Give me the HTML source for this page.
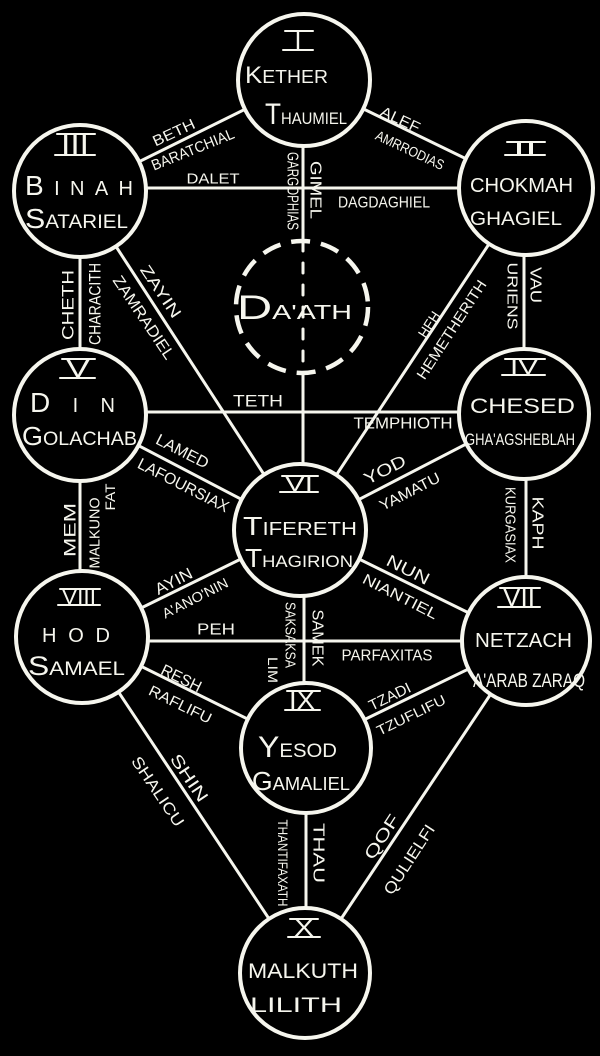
<!DOCTYPE html>
<html>
<head>
<meta charset="utf-8">
<style>
html,body{margin:0;padding:0;background:#000;}
body{width:600px;height:1056px;overflow:hidden;}
svg{display:block;}
text{fill:#f6f6ee;font-family:"Liberation Sans",sans-serif;}
</style>
</head>
<body>
<svg width="600" height="1056" viewBox="0 0 600 1056" xmlns="http://www.w3.org/2000/svg">
<rect width="600" height="1056" fill="#000"/>

<!-- connecting paths -->
<g stroke="#f6f6ee" stroke-width="3" fill="none" stroke-linecap="round">
  <line x1="80" y1="191" x2="304" y2="80"/>
  <line x1="304" y1="80" x2="526" y2="188"/>
  <line x1="80" y1="188" x2="526" y2="188"/>
  <line x1="303" y1="140" x2="303" y2="241"/>
  <line x1="303" y1="241" x2="303" y2="373" stroke-dasharray="10 12"/>
  <line x1="303" y1="373" x2="303" y2="470"/>
  <line x1="80" y1="191" x2="80" y2="415"/>
  <line x1="80" y1="191" x2="300" y2="530"/>
  <line x1="526" y1="188" x2="300" y2="530"/>
  <line x1="524" y1="188" x2="524" y2="414"/>
  <line x1="80" y1="412" x2="524" y2="412"/>
  <line x1="80" y1="415" x2="300" y2="530"/>
  <line x1="524" y1="414" x2="300" y2="530"/>
  <line x1="80" y1="415" x2="80" y2="637"/>
  <line x1="526" y1="414" x2="526" y2="641"/>
  <line x1="82" y1="637" x2="300" y2="530"/>
  <line x1="300" y1="530" x2="526" y2="641"/>
  <line x1="304" y1="530" x2="304" y2="748"/>
  <line x1="82" y1="641" x2="526" y2="641"/>
  <line x1="82" y1="637" x2="306" y2="748"/>
  <line x1="526" y1="641" x2="306" y2="748"/>
  <line x1="82" y1="637" x2="305" y2="973"/>
  <line x1="526" y1="641" x2="305" y2="973"/>
  <line x1="306" y1="748" x2="306" y2="973"/>
</g>

<!-- sephiroth circles -->
<g stroke="#f6f6ee" stroke-width="4" fill="#000">
  <circle cx="304" cy="80" r="66"/>
  <circle cx="80" cy="191" r="66"/>
  <circle cx="526" cy="188" r="67"/>
  <circle cx="80" cy="415" r="66"/>
  <circle cx="524" cy="414" r="65"/>
  <circle cx="300" cy="530" r="66"/>
  <circle cx="82" cy="637" r="66"/>
  <circle cx="526" cy="641" r="64"/>
  <circle cx="306" cy="748" r="65"/>
  <circle cx="305" cy="973" r="65"/>
</g>
<circle cx="302" cy="307" r="66" stroke="#f6f6ee" stroke-width="4.5" fill="none" stroke-dasharray="19 11"/>

<!-- roman numeral bars -->
<g stroke="#f6f6ee" stroke-width="2" stroke-linecap="round">
  <line x1="285" y1="31" x2="313" y2="31"/><line x1="283" y1="50" x2="313" y2="50"/>
  <line x1="57" y1="134" x2="95" y2="134"/><line x1="55" y1="155" x2="95" y2="155"/>
  <line x1="507" y1="142" x2="545" y2="142"/><line x1="505" y1="155" x2="545" y2="155"/>
  <line x1="62" y1="359" x2="95" y2="359"/><line x1="60" y1="378" x2="95" y2="378"/>
  <line x1="505" y1="359" x2="545" y2="359"/><line x1="502" y1="375" x2="545" y2="375"/>
  <line x1="282" y1="476" x2="318" y2="476"/><line x1="280" y1="492" x2="318" y2="492"/>
  <line x1="60" y1="589" x2="100" y2="589"/><line x1="58" y1="605" x2="100" y2="605"/>
  <line x1="500" y1="588" x2="540" y2="588"/><line x1="498" y1="607" x2="540" y2="607"/>
  <line x1="287" y1="691" x2="320" y2="691"/><line x1="285" y1="710" x2="320" y2="710"/>
  <line x1="290" y1="919" x2="318" y2="919"/><line x1="288" y1="937" x2="320" y2="937"/>
</g>

<!-- roman numerals -->
<g text-anchor="middle">
  <text x="298" y="49" font-size="25">I</text>
  <text x="75" y="154" font-size="28" textLength="28" lengthAdjust="spacingAndGlyphs">III</text>
  <text x="525" y="154" font-size="16" textLength="24" lengthAdjust="spacingAndGlyphs">II</text>
  <text x="78" y="377" font-size="25" textLength="24" lengthAdjust="spacingAndGlyphs">V</text>
  <text x="524" y="374" font-size="21" textLength="28" lengthAdjust="spacingAndGlyphs">IV</text>
  <text x="299" y="491" font-size="21" textLength="28" lengthAdjust="spacingAndGlyphs">VI</text>
  <text x="79" y="604" font-size="21" textLength="34" lengthAdjust="spacingAndGlyphs">VIII</text>
  <text x="519" y="606" font-size="25" textLength="32" lengthAdjust="spacingAndGlyphs">VII</text>
  <text x="302" y="709" font-size="25" textLength="26" lengthAdjust="spacingAndGlyphs">IX</text>
  <text x="304" y="936" font-size="24" textLength="20" lengthAdjust="spacingAndGlyphs">X</text>
</g>

<!-- sephira names -->
<g>
  <text x="245" y="83" font-size="18" textLength="83" lengthAdjust="spacingAndGlyphs"><tspan font-size="24">K</tspan>ETHER</text>
  <text x="265" y="124" font-size="17" textLength="82" lengthAdjust="spacingAndGlyphs"><tspan font-size="30">T</tspan>HAUMIEL</text>
  <text x="25" y="195" font-size="20" textLength="108" lengthAdjust="spacing"><tspan font-size="28">B</tspan>INAH</text>
  <text x="25" y="228" font-size="19" textLength="103" lengthAdjust="spacingAndGlyphs"><tspan font-size="28">S</tspan>ATARIEL</text>
  <text x="470" y="192" font-size="20" textLength="103" lengthAdjust="spacingAndGlyphs">CHOKMAH</text>
  <text x="470" y="225" font-size="19" textLength="92" lengthAdjust="spacingAndGlyphs">GHAGIEL</text>
  <text x="237" y="319" font-size="20" textLength="115" lengthAdjust="spacingAndGlyphs"><tspan font-size="34">D</tspan>A'ATH</text>
  <text x="30" y="412" font-size="20" textLength="85" lengthAdjust="spacing"><tspan font-size="28">D</tspan>IN</text>
  <text x="22" y="445" font-size="19" textLength="115" lengthAdjust="spacingAndGlyphs"><tspan font-size="26">G</tspan>OLACHAB</text>
  <text x="470" y="413" font-size="21" textLength="105" lengthAdjust="spacingAndGlyphs">CHESED</text>
  <text x="465" y="445" font-size="17" textLength="110" lengthAdjust="spacingAndGlyphs">GHA'AGSHEBLAH</text>
  <text x="243" y="535" font-size="18" textLength="114" lengthAdjust="spacingAndGlyphs"><tspan font-size="26">T</tspan>IFERETH</text>
  <text x="245" y="567" font-size="17" textLength="108" lengthAdjust="spacingAndGlyphs"><tspan font-size="26">T</tspan>HAGIRION</text>
  <text x="42" y="642" font-size="20" textLength="68" lengthAdjust="spacing">HOD</text>
  <text x="28" y="675" font-size="19" textLength="97" lengthAdjust="spacingAndGlyphs"><tspan font-size="27">S</tspan>AMAEL</text>
  <text x="475" y="647" font-size="20" textLength="97" lengthAdjust="spacingAndGlyphs">NETZACH</text>
  <text x="473" y="687" font-size="19" textLength="112" lengthAdjust="spacingAndGlyphs">A'ARAB ZARAQ</text>
  <text x="258" y="757" font-size="19" textLength="79" lengthAdjust="spacingAndGlyphs"><tspan font-size="30">Y</tspan>ESOD</text>
  <text x="252" y="790" font-size="18" textLength="98" lengthAdjust="spacingAndGlyphs"><tspan font-size="26">G</tspan>AMALIEL</text>
  <text x="248" y="978" font-size="21" textLength="110" lengthAdjust="spacingAndGlyphs">MALKUTH</text>
  <text x="250" y="1012" font-size="21" textLength="92" lengthAdjust="spacingAndGlyphs">LILITH</text>
</g>

<!-- path labels -->
<g text-anchor="middle" dominant-baseline="central">
  <text transform="translate(174,133) rotate(-25)" font-size="15" textLength="45" lengthAdjust="spacingAndGlyphs">BETH</text>
  <text transform="translate(193,150) rotate(-22)" font-size="15" textLength="88" lengthAdjust="spacingAndGlyphs">BARATCHIAL</text>
  <text transform="translate(400,120) rotate(25)" font-size="15" textLength="42" lengthAdjust="spacingAndGlyphs">ALEF</text>
  <text transform="translate(410,150) rotate(25)" font-size="14" textLength="74" lengthAdjust="spacingAndGlyphs">AMRRODIAS</text>
  <text transform="translate(213,179)" font-size="15" textLength="53" lengthAdjust="spacingAndGlyphs">DALET</text>
  <text transform="translate(384,203)" font-size="16" textLength="92" lengthAdjust="spacingAndGlyphs">DAGDAGHIEL</text>
  <text transform="translate(292,191) rotate(90)" font-size="16" textLength="78" lengthAdjust="spacingAndGlyphs">GARGOPHIAS</text>
  <text transform="translate(315,190) rotate(90)" font-size="16" textLength="58" lengthAdjust="spacingAndGlyphs">GIMEL</text>
  <text transform="translate(68,305) rotate(-90)" font-size="17" textLength="70" lengthAdjust="spacingAndGlyphs">CHETH</text>
  <text transform="translate(95,304) rotate(-90)" font-size="17" textLength="82" lengthAdjust="spacingAndGlyphs">CHARACITH</text>
  <text transform="translate(160,292) rotate(56)" font-size="16" textLength="60" lengthAdjust="spacingAndGlyphs">ZAYIN</text>
  <text transform="translate(143,318) rotate(56)" font-size="16" textLength="97" lengthAdjust="spacingAndGlyphs">ZAMRADIEL</text>
  <text transform="translate(430,325) rotate(-57)" font-size="15" textLength="28" lengthAdjust="spacingAndGlyphs">HEH</text>
  <text transform="translate(452,330) rotate(-57)" font-size="15" textLength="115" lengthAdjust="spacingAndGlyphs">HEMETHERITH</text>
  <text transform="translate(512,296) rotate(90)" font-size="15" textLength="67" lengthAdjust="spacingAndGlyphs">URIENS</text>
  <text transform="translate(535,285) rotate(90)" font-size="16" textLength="36" lengthAdjust="spacingAndGlyphs">VAU</text>
  <text transform="translate(258,401)" font-size="17" textLength="50" lengthAdjust="spacingAndGlyphs">TETH</text>
  <text transform="translate(403,424)" font-size="16" textLength="99" lengthAdjust="spacingAndGlyphs">TEMPHIOTH</text>
  <text transform="translate(182,452) rotate(27)" font-size="16" textLength="57" lengthAdjust="spacingAndGlyphs">LAMED</text>
  <text transform="translate(183,486) rotate(27)" font-size="16" textLength="100" lengthAdjust="spacingAndGlyphs">LAFOURSIAX</text>
  <text transform="translate(385,470) rotate(-27)" font-size="17" textLength="45" lengthAdjust="spacingAndGlyphs">YOD</text>
  <text transform="translate(410,492) rotate(-27)" font-size="15" textLength="66" lengthAdjust="spacingAndGlyphs">YAMATU</text>
  <text transform="translate(70,530) rotate(-90)" font-size="17" textLength="54" lengthAdjust="spacingAndGlyphs">MEM</text>
  <text transform="translate(95,533) rotate(-90)" font-size="15" textLength="71" lengthAdjust="spacingAndGlyphs">MALKUNO</text>
  <text transform="translate(110,497) rotate(-90)" font-size="14" textLength="27" lengthAdjust="spacingAndGlyphs">FAT</text>
  <text transform="translate(510,525) rotate(90)" font-size="15" textLength="76" lengthAdjust="spacingAndGlyphs">KURGASIAX</text>
  <text transform="translate(537,523) rotate(90)" font-size="16" textLength="53" lengthAdjust="spacingAndGlyphs">KAPH</text>
  <text transform="translate(174,582) rotate(-27)" font-size="16" textLength="40" lengthAdjust="spacingAndGlyphs">AYIN</text>
  <text transform="translate(195,598) rotate(-27)" font-size="14" textLength="72" lengthAdjust="spacingAndGlyphs">A'ANO'NIN</text>
  <text transform="translate(408,570) rotate(27)" font-size="17" textLength="46" lengthAdjust="spacingAndGlyphs">NUN</text>
  <text transform="translate(400,597) rotate(27)" font-size="15" textLength="82" lengthAdjust="spacingAndGlyphs">NIANTIEL</text>
  <text transform="translate(290,635) rotate(90)" font-size="15" textLength="66" lengthAdjust="spacingAndGlyphs">SAKSAKSA</text>
  <text transform="translate(273,670) rotate(90)" font-size="14" textLength="26" lengthAdjust="spacingAndGlyphs">LIM</text>
  <text transform="translate(317,638) rotate(90)" font-size="16" textLength="57" lengthAdjust="spacingAndGlyphs">SAMEK</text>
  <text transform="translate(216,630)" font-size="16" textLength="38" lengthAdjust="spacingAndGlyphs">PEH</text>
  <text transform="translate(387,656)" font-size="16" textLength="91" lengthAdjust="spacingAndGlyphs">PARFAXITAS</text>
  <text transform="translate(181,679) rotate(26)" font-size="16" textLength="43" lengthAdjust="spacingAndGlyphs">RESH</text>
  <text transform="translate(180,705) rotate(26)" font-size="15" textLength="68" lengthAdjust="spacingAndGlyphs">RAFLIFU</text>
  <text transform="translate(390,697) rotate(-26)" font-size="15" textLength="45" lengthAdjust="spacingAndGlyphs">TZADI</text>
  <text transform="translate(411,715) rotate(-26)" font-size="14" textLength="75" lengthAdjust="spacingAndGlyphs">TZUFLIFU</text>
  <text transform="translate(189,778) rotate(56)" font-size="17" textLength="54" lengthAdjust="spacingAndGlyphs">SHIN</text>
  <text transform="translate(157,792) rotate(56)" font-size="16" textLength="81" lengthAdjust="spacingAndGlyphs">SHALICU</text>
  <text transform="translate(283,863) rotate(90)" font-size="14" textLength="87" lengthAdjust="spacingAndGlyphs">THANTIFAXATH</text>
  <text transform="translate(318,853) rotate(90)" font-size="16" textLength="60" lengthAdjust="spacingAndGlyphs">THAU</text>
  <text transform="translate(382,837) rotate(-57)" font-size="17" textLength="50" lengthAdjust="spacingAndGlyphs">QOF</text>
  <text transform="translate(410,860) rotate(-57)" font-size="16" textLength="80" lengthAdjust="spacingAndGlyphs">QULIELFI</text>
</g>
</svg>
</body>
</html>
